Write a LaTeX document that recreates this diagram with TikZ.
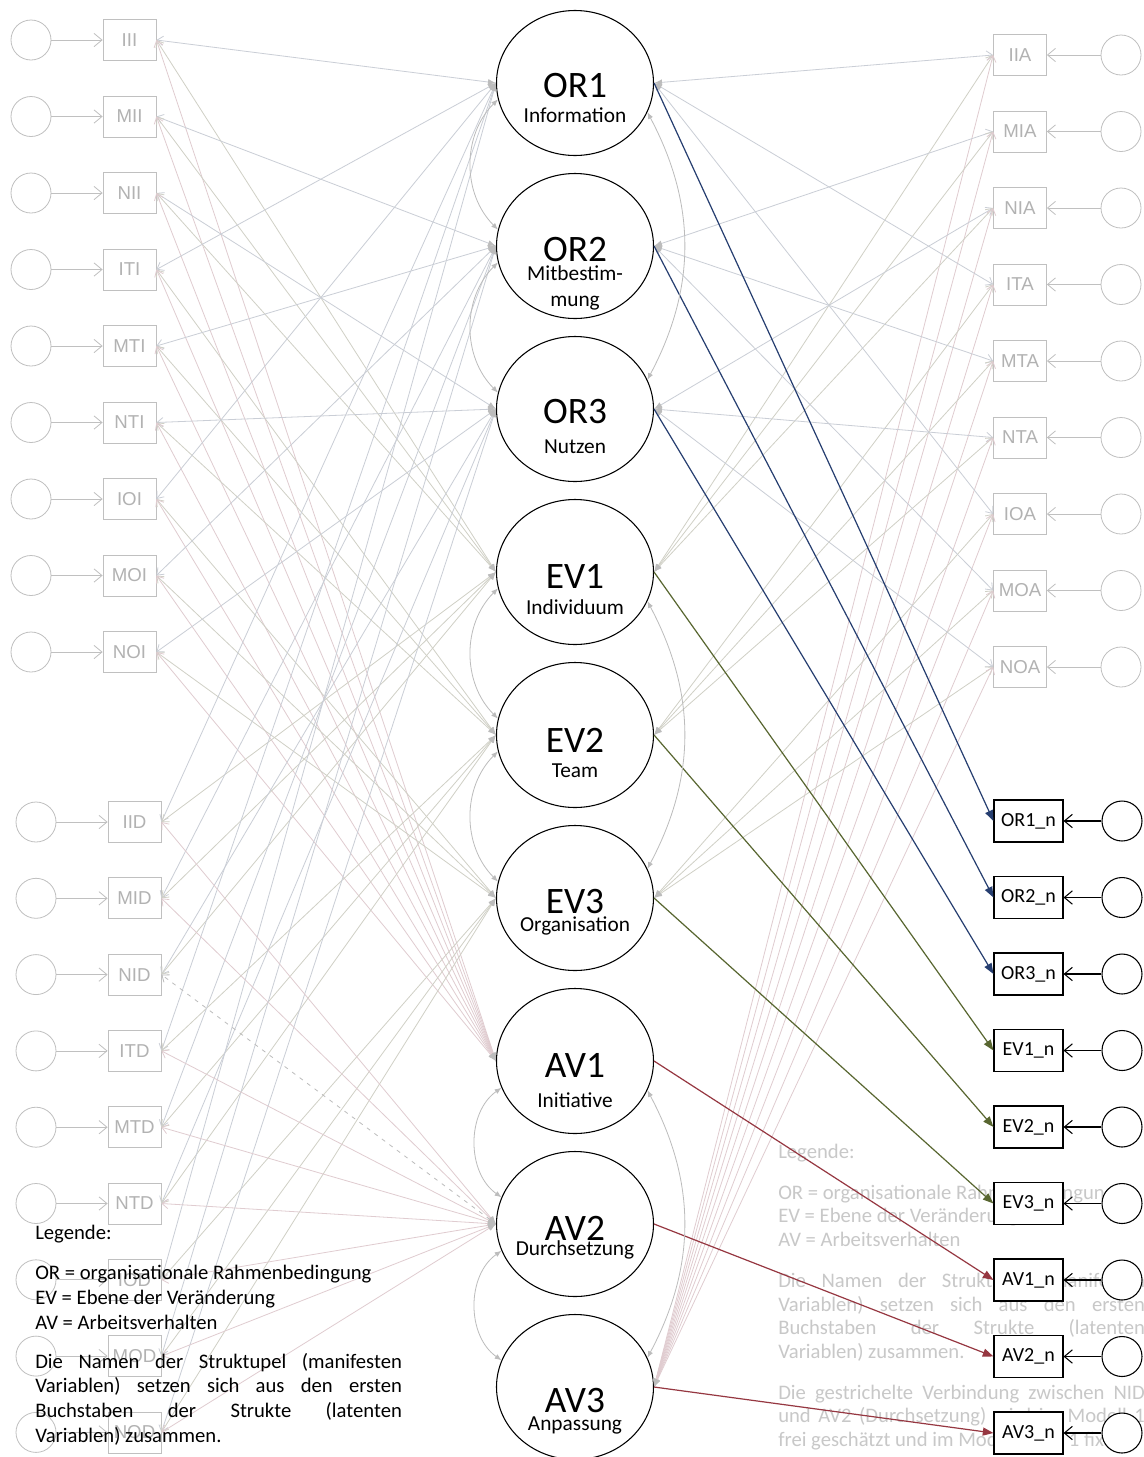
\documentclass[tikz,border=0pt]{standalone}
\usepackage{fontspec}
\setmainfont{Carlito}
\newfontfamily\arialf{Liberation Sans}
\usetikzlibrary{arrows.meta,shapes.geometric}
\definecolor{boxgray}{RGB}{192,192,192}
\definecolor{txtgray}{RGB}{178,178,178}
\definecolor{leggray}{RGB}{200,200,200}
\definecolor{orcol}{RGB}{202,206,214}
\definecolor{evcol}{RGB}{208,208,198}
\definecolor{avcol}{RGB}{224,204,208}
\definecolor{covcol}{RGB}{188,188,188}
\definecolor{navy}{RGB}{38,62,112}
\definecolor{olivec}{RGB}{88,102,48}
\definecolor{darkredc}{RGB}{150,55,65}
\begin{document}
\begin{tikzpicture}[x=0.75pt,y=-0.75pt,
 lat/.style={ellipse,draw=black,line width=0.8pt,fill=white,minimum width=117.75pt,minimum height=108.75pt,inner sep=0pt},
 bigl/.style={font=\fontsize{28}{30}\selectfont,inner sep=0pt},
 subl/.style={font=\fontsize{16}{18}\selectfont,inner sep=0pt},
 mbox/.style={draw=boxgray,line width=0.6pt,fill=white,minimum width=39.75pt,minimum height=30.75pt,inner sep=0pt,text=txtgray,font=\arialf\fontsize{14}{16}\selectfont},
 ecirc/.style={circle,draw=boxgray,line width=0.6pt,minimum size=30pt,inner sep=0pt},
 nbox/.style={draw=black,line width=0.8pt,fill=white,minimum width=51.75pt,minimum height=31.5pt,inner sep=0pt,font=\fontsize{15}{17}\selectfont},
 ncirc/.style={circle,draw=black,line width=0.8pt,fill=white,minimum size=30pt,inner sep=0pt},
 ebarb/.style={draw=boxgray,line width=0.6pt,-{Straight Barb[length=6pt,width=10pt]}},
 nbarb/.style={draw=black,line width=0.8pt,-{Straight Barb[length=6pt,width=10pt]}},
 ldg/.style={line width=0.6pt,{Latex[length=6pt,width=4.5pt,color=covcol]}-{Straight Barb[length=4.5pt,width=7pt]}},
 orl/.style={ldg,draw=orcol},
 evl/.style={ldg,draw=evcol},
 avl/.style={ldg,draw=avcol},
 cov/.style={draw=covcol,line width=0.6pt,{Latex[length=5pt,width=4pt]}-{Latex[length=5pt,width=4pt]}},
 colarr/.style={line width=0.9pt,-{Triangle[length=8pt,width=6pt]}},
 legf/.style={inner sep=0pt,anchor=base west,align=left,font=\fontsize{15.5}{18.4}\selectfont},
 legr/.style={inner sep=0pt,anchor=base west,align=left,text=leggray,font=\fontsize{15.5}{17.6}\selectfont}
]
\fill[white] (0,0) rectangle (1144,1457);
\useasboundingbox (0,0) rectangle (1144,1457);

% right legend (below the boxes); base anchor = last line
\node[legr] (rlegA) at (778,1158) {Legende:};
\node[legr] (rlegB) at (778,1246) {OR = organisationale Rahmenbedingungen\\EV = Ebene der Veränderungen\\AV = Arbeitsverhalten};
\node[legr] (rlegC) at (778,1358) {\makebox[275pt][s]{Die Namen der Struktupel (manifesten}\\\makebox[275pt][s]{Variablen) setzen sich aus den ersten}\\\makebox[275pt][s]{Buchstaben der Strukte (latenten}\\Variablen) zusammen.};
\node[legr] (rlegD) at (778,1446) {\makebox[275pt][s]{Die gestrichelte Verbindung zwischen NID}\\\makebox[275pt][s]{und AV2 (Durchsetzung) wird im Modell 1}\\frei geschätzt und im Modell 2 auf 1 fixiert.};

% latent variables
\foreach \nm/\yy in {OR1/83,OR2/246,OR3/409,EV1/572,EV2/735,EV3/898,AV1/1061,AV2/1224,AV3/1387}
  \node[lat] (\nm) at (575,\yy) {};
\node[bigl] (OR1t) at (575,86) {OR1};
\node[subl] (OR1s) at (575,115) {Information};
\node[bigl] (OR2t) at (575,250) {OR2};
\node[subl] (OR2s) at (575,273) {Mitbestim-};
\node[subl] (OR2u) at (575,303) {mung};
\node[bigl] (OR3t) at (575,412) {OR3};
\node[subl] (OR3s) at (575,447) {Nutzen};
\node[bigl] (EV1t) at (575,576) {EV1};
\node[subl] (EV1s) at (575,607) {Individuum};
\node[bigl] (EV2t) at (575,740) {EV2};
\node[subl] (EV2s) at (575,771) {Team};
\node[bigl] (EV3t) at (575,902) {EV3};
\node[subl] (EV3s) at (575,926) {Organisation};
\node[bigl] (AV1t) at (575,1065) {AV1};
\node[subl] (AV1s) at (575,1100) {Initiative};
\node[bigl] (AV2t) at (575,1228) {AV2};
\node[subl] (AV2s) at (575,1250) {Durchsetzung};
\node[bigl] (AV3t) at (575,1400) {AV3};
\node[subl] (AV3s) at (575,1425) {Anpassung};

% left upper group
\foreach \nm [count=\k from 0] in {III,MII,NII,ITI,MTI,NTI,IOI,MOI,NOI}{
  \pgfmathsetmacro\yy{40+76.5*\k}
  \node[mbox] (\nm) at (129.5,\yy) {\nm};
  \node[ecirc] (e\nm) at (31,\yy) {};
  \draw[ebarb] (e\nm) -- (\nm);
}
% left lower group
\foreach \nm [count=\k from 0] in {IID,MID,NID,ITD,MTD,NTD,IOD,MOD,NOD}{
  \pgfmathsetmacro\yy{822+76.3*\k}
  \node[mbox] (\nm) at (134.5,\yy) {\nm};
  \node[ecirc] (e\nm) at (36,\yy) {};
  \draw[ebarb] (e\nm) -- (\nm);
}
% right upper group
\foreach \nm [count=\k from 0] in {IIA,MIA,NIA,ITA,MTA,NTA,IOA,MOA,NOA}{
  \pgfmathsetmacro\yy{55+76.5*\k}
  \node[mbox] (\nm) at (1020,\yy) {\nm};
  \node[ecirc] (e\nm) at (1121,\yy) {};
  \draw[ebarb] (e\nm) -- (\nm);
}
% right lower group
\foreach \nm/\lab [count=\k from 0] in {ORn1/OR1,ORn2/OR2,ORn3/OR3,EVn1/EV1,EVn2/EV2,EVn3/EV3,AVn1/AV1,AVn2/AV2,AVn3/AV3}{
  \pgfmathsetmacro\yy{821+76.5*\k}
  \node[nbox] (\nm) at (1028.5,\yy) {\lab\_n};
  \node[ncirc] (e\nm) at (1122,\yy) {};
  \draw[nbarb] (e\nm) -- (\nm);
}

% loadings
\foreach \nm/\o/\e in {III/1/1,MII/2/1,NII/3/1,ITI/1/2,MTI/2/2,NTI/3/2,IOI/1/3,MOI/2/3,NOI/3/3}{
  \draw[orl] (OR\o.west) -- (\nm.east);
  \draw[evl] (EV\e.west) -- (\nm.east);
  \draw[avl] (AV1.west) -- (\nm.east);
}
\foreach \nm/\o/\e in {IID/1/1,MID/2/1,NID/3/1,ITD/1/2,MTD/2/2,NTD/3/2,IOD/1/3,MOD/2/3,NOD/3/3}{
  \draw[orl] (OR\o.west) -- (\nm.east);
  \draw[evl] (EV\e.west) -- (\nm.east);
}
\foreach \nm in {IID,MID,ITD,MTD,NTD,IOD,MOD,NOD}
  \draw[avl] (AV2.west) -- (\nm.east);
\draw[avl,draw=covcol,dash pattern=on 3pt off 4pt] (AV2.west) -- (NID.east);
\foreach \nm/\o/\e in {IIA/1/1,MIA/2/1,NIA/3/1,ITA/1/2,MTA/2/2,NTA/3/2,IOA/1/3,MOA/2/3,NOA/3/3}{
  \draw[orl] (OR\o.east) -- (\nm.west);
  \draw[evl] (EV\e.east) -- (\nm.west);
  \draw[avl] (AV3.east) -- (\nm.west);
}

% coloured loadings
\foreach \i in {1,2,3}{
  \draw[colarr,navy] (OR\i.east) -- (ORn\i.west);
  \draw[colarr,olivec] (EV\i.east) -- (EVn\i.west);
  \draw[colarr,darkredc] (AV\i.east) -- (AVn\i.west);
}

% covariances
\draw[cov] (OR1.192) to[out=225,in=135] (OR2.168);
\draw[cov] (OR2.192) to[out=225,in=135] (OR3.168);
\draw[cov] (EV1.192) to[out=225,in=135] (EV2.168);
\draw[cov] (EV2.192) to[out=225,in=135] (EV3.168);
\draw[cov] (AV1.200) to[out=215,in=145] (AV2.160);
\draw[cov] (AV2.200) to[out=215,in=145] (AV3.160);
\draw[cov] (OR1.338) to[out=-62,in=62] (OR3.22);
\draw[cov] (EV1.338) to[out=-62,in=62] (EV3.22);
\draw[cov] (AV1.338) to[out=-62,in=62] (AV3.22);

% left legend; base anchor = last line
\node[legf] (llegA) at (35,1239) {Legende:};
\node[legf] (llegB) at (35,1329) {OR = organisationale Rahmenbedingung\\EV = Ebene der Veränderung\\AV = Arbeitsverhalten};
\node[legf] (llegC) at (35,1442) {\makebox[275pt][s]{Die Namen der Struktupel (manifesten}\\\makebox[275pt][s]{Variablen) setzen sich aus den ersten}\\\makebox[275pt][s]{Buchstaben der Strukte (latenten}\\Variablen) zusammen.};
\end{tikzpicture}
\end{document}
